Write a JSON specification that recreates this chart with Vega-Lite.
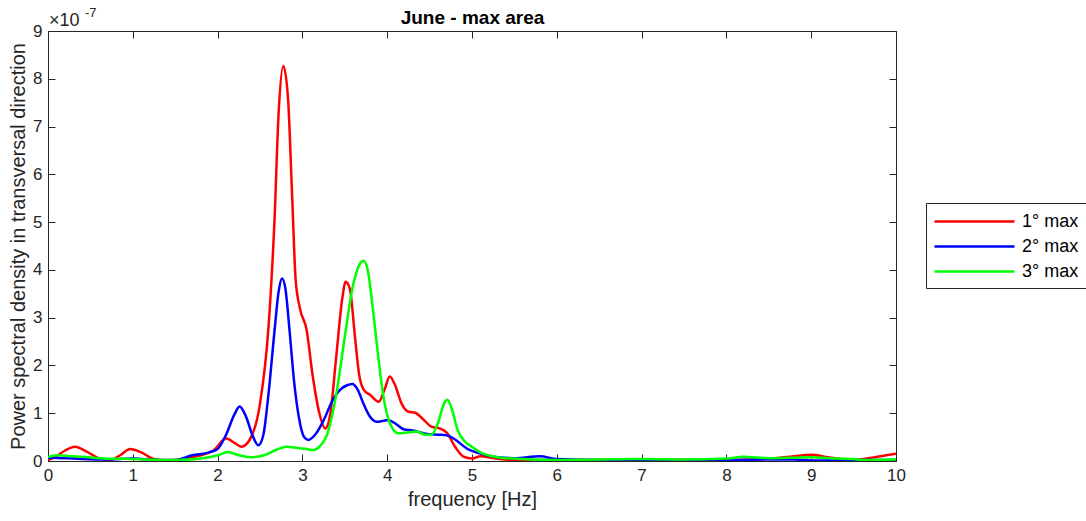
{
  "$schema": "https://vega.github.io/schema/vega-lite/v6.json",
  "width": 848,
  "height": 430,
  "padding": {"left": 8, "top": 7, "right": 0, "bottom": 2},
  "background": "white",
  "config": {
    "view": {"stroke": "#262626", "strokeWidth": 1},
    "font": "Liberation Sans",
    "axis": {"grid": false, "domainColor": "#262626", "tickColor": "#262626", "labelColor": "#262626", "titleColor": "#262626", "labelFont": "Liberation Sans", "titleFont": "Liberation Sans", "labelFontSize": 17, "titleFontSize": 20, "titleFontWeight": "normal", "tickSize": -7, "labelPadding": 13, "labelFlush": false}
  },
  "datasets": {
    "psd": [
      {"f": 0, "v": 0.02, "s": "1° max"}, {"f": 0.1, "v": 0.1, "s": "1° max"}, {"f": 0.2, "v": 0.22, "s": "1° max"}, {"f": 0.32, "v": 0.3, "s": "1° max"}, {"f": 0.45, "v": 0.2, "s": "1° max"}, {"f": 0.6, "v": 0.06, "s": "1° max"}, {"f": 0.73, "v": 0.02, "s": "1° max"}, {"f": 0.85, "v": 0.12, "s": "1° max"}, {"f": 0.97, "v": 0.25, "s": "1° max"}, {"f": 1.1, "v": 0.18, "s": "1° max"}, {"f": 1.25, "v": 0.04, "s": "1° max"}, {"f": 1.4, "v": 0.01, "s": "1° max"}, {"f": 1.6, "v": 0.05, "s": "1° max"}, {"f": 1.8, "v": 0.12, "s": "1° max"}, {"f": 1.95, "v": 0.22, "s": "1° max"}, {"f": 2.1, "v": 0.47, "s": "1° max"}, {"f": 2.2, "v": 0.38, "s": "1° max"}, {"f": 2.28, "v": 0.3, "s": "1° max"}, {"f": 2.38, "v": 0.45, "s": "1° max"}, {"f": 2.5, "v": 1.2, "s": "1° max"}, {"f": 2.6, "v": 2.8, "s": "1° max"}, {"f": 2.67, "v": 5.0, "s": "1° max"}, {"f": 2.72, "v": 7.3, "s": "1° max"}, {"f": 2.775, "v": 8.27, "s": "1° max"}, {"f": 2.83, "v": 7.6, "s": "1° max"}, {"f": 2.88, "v": 5.5, "s": "1° max"}, {"f": 2.92, "v": 3.8, "s": "1° max"}, {"f": 2.97, "v": 3.2, "s": "1° max"}, {"f": 3.05, "v": 2.74, "s": "1° max"}, {"f": 3.12, "v": 1.8, "s": "1° max"}, {"f": 3.2, "v": 1.0, "s": "1° max"}, {"f": 3.27, "v": 0.68, "s": "1° max"}, {"f": 3.33, "v": 1.0, "s": "1° max"}, {"f": 3.4, "v": 2.2, "s": "1° max"}, {"f": 3.47, "v": 3.4, "s": "1° max"}, {"f": 3.51, "v": 3.75, "s": "1° max"}, {"f": 3.56, "v": 3.6, "s": "1° max"}, {"f": 3.62, "v": 2.6, "s": "1° max"}, {"f": 3.67, "v": 1.8, "s": "1° max"}, {"f": 3.72, "v": 1.5, "s": "1° max"}, {"f": 3.8, "v": 1.38, "s": "1° max"}, {"f": 3.9, "v": 1.24, "s": "1° max"}, {"f": 3.97, "v": 1.5, "s": "1° max"}, {"f": 4.03, "v": 1.77, "s": "1° max"}, {"f": 4.09, "v": 1.6, "s": "1° max"}, {"f": 4.17, "v": 1.2, "s": "1° max"}, {"f": 4.25, "v": 1.03, "s": "1° max"}, {"f": 4.33, "v": 1.01, "s": "1° max"}, {"f": 4.42, "v": 0.88, "s": "1° max"}, {"f": 4.52, "v": 0.72, "s": "1° max"}, {"f": 4.62, "v": 0.68, "s": "1° max"}, {"f": 4.7, "v": 0.6, "s": "1° max"}, {"f": 4.8, "v": 0.3, "s": "1° max"}, {"f": 4.9, "v": 0.09, "s": "1° max"}, {"f": 5.0, "v": 0.05, "s": "1° max"}, {"f": 5.1, "v": 0.1, "s": "1° max"}, {"f": 5.25, "v": 0.06, "s": "1° max"}, {"f": 5.5, "v": 0.02, "s": "1° max"}, {"f": 6, "v": 0.02, "s": "1° max"}, {"f": 7, "v": 0.02, "s": "1° max"}, {"f": 8, "v": 0.02, "s": "1° max"}, {"f": 8.5, "v": 0.05, "s": "1° max"}, {"f": 8.8, "v": 0.1, "s": "1° max"}, {"f": 9.0, "v": 0.13, "s": "1° max"}, {"f": 9.2, "v": 0.08, "s": "1° max"}, {"f": 9.5, "v": 0.02, "s": "1° max"}, {"f": 9.75, "v": 0.08, "s": "1° max"}, {"f": 10, "v": 0.15, "s": "1° max"},

      {"f": 0, "v": 0.07, "s": "2° max"}, {"f": 0.3, "v": 0.05, "s": "2° max"}, {"f": 0.7, "v": 0.03, "s": "2° max"}, {"f": 1.0, "v": 0.05, "s": "2° max"}, {"f": 1.3, "v": 0.02, "s": "2° max"}, {"f": 1.5, "v": 0.02, "s": "2° max"}, {"f": 1.7, "v": 0.12, "s": "2° max"}, {"f": 1.9, "v": 0.18, "s": "2° max"}, {"f": 2.0, "v": 0.25, "s": "2° max"}, {"f": 2.1, "v": 0.55, "s": "2° max"}, {"f": 2.2, "v": 0.98, "s": "2° max"}, {"f": 2.26, "v": 1.14, "s": "2° max"}, {"f": 2.33, "v": 0.95, "s": "2° max"}, {"f": 2.42, "v": 0.5, "s": "2° max"}, {"f": 2.48, "v": 0.33, "s": "2° max"}, {"f": 2.54, "v": 0.55, "s": "2° max"}, {"f": 2.6, "v": 1.4, "s": "2° max"}, {"f": 2.67, "v": 2.7, "s": "2° max"}, {"f": 2.72, "v": 3.55, "s": "2° max"}, {"f": 2.76, "v": 3.82, "s": "2° max"}, {"f": 2.8, "v": 3.6, "s": "2° max"}, {"f": 2.85, "v": 2.7, "s": "2° max"}, {"f": 2.9, "v": 1.7, "s": "2° max"}, {"f": 2.96, "v": 0.9, "s": "2° max"}, {"f": 3.02, "v": 0.5, "s": "2° max"}, {"f": 3.07, "v": 0.44, "s": "2° max"}, {"f": 3.15, "v": 0.55, "s": "2° max"}, {"f": 3.25, "v": 0.85, "s": "2° max"}, {"f": 3.35, "v": 1.25, "s": "2° max"}, {"f": 3.45, "v": 1.5, "s": "2° max"}, {"f": 3.52, "v": 1.58, "s": "2° max"}, {"f": 3.59, "v": 1.61, "s": "2° max"}, {"f": 3.65, "v": 1.5, "s": "2° max"}, {"f": 3.72, "v": 1.2, "s": "2° max"}, {"f": 3.8, "v": 0.92, "s": "2° max"}, {"f": 3.88, "v": 0.82, "s": "2° max"}, {"f": 3.95, "v": 0.84, "s": "2° max"}, {"f": 4.01, "v": 0.86, "s": "2° max"}, {"f": 4.1, "v": 0.78, "s": "2° max"}, {"f": 4.2, "v": 0.66, "s": "2° max"}, {"f": 4.3, "v": 0.64, "s": "2° max"}, {"f": 4.45, "v": 0.57, "s": "2° max"}, {"f": 4.6, "v": 0.55, "s": "2° max"}, {"f": 4.7, "v": 0.54, "s": "2° max"}, {"f": 4.8, "v": 0.45, "s": "2° max"}, {"f": 4.95, "v": 0.25, "s": "2° max"}, {"f": 5.09, "v": 0.16, "s": "2° max"}, {"f": 5.3, "v": 0.08, "s": "2° max"}, {"f": 5.5, "v": 0.06, "s": "2° max"}, {"f": 5.8, "v": 0.1, "s": "2° max"}, {"f": 6.0, "v": 0.04, "s": "2° max"}, {"f": 6.5, "v": 0.02, "s": "2° max"}, {"f": 7, "v": 0.02, "s": "2° max"}, {"f": 8, "v": 0.02, "s": "2° max"}, {"f": 8.5, "v": 0.03, "s": "2° max"}, {"f": 8.8, "v": 0.03, "s": "2° max"}, {"f": 9, "v": 0.01, "s": "2° max"}, {"f": 9.5, "v": 0.02, "s": "2° max"}, {"f": 10, "v": 0.02, "s": "2° max"},

      {"f": 0, "v": 0.08, "s": "3° max"}, {"f": 0.1, "v": 0.12, "s": "3° max"}, {"f": 0.3, "v": 0.1, "s": "3° max"}, {"f": 0.6, "v": 0.06, "s": "3° max"}, {"f": 1.0, "v": 0.04, "s": "3° max"}, {"f": 1.5, "v": 0.02, "s": "3° max"}, {"f": 1.8, "v": 0.05, "s": "3° max"}, {"f": 2.0, "v": 0.12, "s": "3° max"}, {"f": 2.12, "v": 0.19, "s": "3° max"}, {"f": 2.25, "v": 0.12, "s": "3° max"}, {"f": 2.4, "v": 0.08, "s": "3° max"}, {"f": 2.55, "v": 0.12, "s": "3° max"}, {"f": 2.7, "v": 0.24, "s": "3° max"}, {"f": 2.81, "v": 0.3, "s": "3° max"}, {"f": 2.95, "v": 0.27, "s": "3° max"}, {"f": 3.05, "v": 0.25, "s": "3° max"}, {"f": 3.13, "v": 0.23, "s": "3° max"}, {"f": 3.2, "v": 0.3, "s": "3° max"}, {"f": 3.3, "v": 0.6, "s": "3° max"}, {"f": 3.4, "v": 1.4, "s": "3° max"}, {"f": 3.5, "v": 2.6, "s": "3° max"}, {"f": 3.6, "v": 3.7, "s": "3° max"}, {"f": 3.67, "v": 4.1, "s": "3° max"}, {"f": 3.72, "v": 4.19, "s": "3° max"}, {"f": 3.77, "v": 4.0, "s": "3° max"}, {"f": 3.83, "v": 3.2, "s": "3° max"}, {"f": 3.9, "v": 2.1, "s": "3° max"}, {"f": 3.96, "v": 1.3, "s": "3° max"}, {"f": 4.03, "v": 0.8, "s": "3° max"}, {"f": 4.13, "v": 0.58, "s": "3° max"}, {"f": 4.25, "v": 0.6, "s": "3° max"}, {"f": 4.35, "v": 0.62, "s": "3° max"}, {"f": 4.45, "v": 0.55, "s": "3° max"}, {"f": 4.52, "v": 0.55, "s": "3° max"}, {"f": 4.6, "v": 0.8, "s": "3° max"}, {"f": 4.67, "v": 1.2, "s": "3° max"}, {"f": 4.71, "v": 1.28, "s": "3° max"}, {"f": 4.76, "v": 1.1, "s": "3° max"}, {"f": 4.83, "v": 0.65, "s": "3° max"}, {"f": 4.92, "v": 0.4, "s": "3° max"}, {"f": 5.0, "v": 0.3, "s": "3° max"}, {"f": 5.1, "v": 0.18, "s": "3° max"}, {"f": 5.3, "v": 0.08, "s": "3° max"}, {"f": 5.6, "v": 0.04, "s": "3° max"}, {"f": 6, "v": 0.02, "s": "3° max"}, {"f": 7, "v": 0.04, "s": "3° max"}, {"f": 7.5, "v": 0.03, "s": "3° max"}, {"f": 8, "v": 0.05, "s": "3° max"}, {"f": 8.2, "v": 0.09, "s": "3° max"}, {"f": 8.5, "v": 0.06, "s": "3° max"}, {"f": 8.8, "v": 0.07, "s": "3° max"}, {"f": 9.0, "v": 0.08, "s": "3° max"}, {"f": 9.3, "v": 0.05, "s": "3° max"}, {"f": 9.5, "v": 0.04, "s": "3° max"}, {"f": 9.6, "v": 0.02, "s": "3° max"}, {"f": 10, "v": 0.03, "s": "3° max"}
    ],
    "mult": [{"f": 0, "v": 9, "base": "×10", "exp": "-7"}]
  },
  "layer": [
    {
      "data": {"name": "psd"},
      "mark": {"type": "line", "strokeWidth": 2.5, "interpolate": "monotone", "clip": true},
      "encoding": {
        "x": {"field": "f", "type": "quantitative", "scale": {"domain": [0, 10], "nice": false, "zero": false}, "axis": {"title": "frequency [Hz]", "values": [0,1,2,3,4,5,6,7,8,9,10], "titlePadding": 6}},
        "y": {"field": "v", "type": "quantitative", "scale": {"domain": [0, 9], "nice": false}, "axis": {"title": "Power spectral density in transversal direction", "values": [0,1,2,3,4,5,6,7,8,9], "titlePadding": 4}},
        "color": {"field": "s", "type": "nominal", "scale": {"domain": ["1° max", "2° max", "3° max"], "range": ["#ff0000", "#0000ff", "#00ff00"]},
          "legend": {"title": null, "orient": "none", "legendX": 878, "legendY": 172, "symbolType": "M-1,0H7", "symbolSize": 400, "symbolStrokeWidth": 2.5, "labelFontSize": 18, "labelColor": "#000000", "labelFont": "Liberation Sans", "strokeColor": "#262626", "padding": 7, "rowPadding": 4, "labelOffset": 66}
        }
      }
    },
    {
      "data": {"name": "mult"},
      "mark": {"type": "text", "align": "left", "baseline": "alphabetic", "dx": 1, "dy": -5, "fontSize": 18, "color": "#262626", "font": "Liberation Sans"},
      "encoding": {
        "x": {"field": "f", "type": "quantitative", "axis": {"orient": "top", "labels": false, "title": "June - max area", "titleFontWeight": "bold", "titleFontSize": 19, "titleColor": "#000000", "titlePadding": 3, "domain": false, "values": [0,1,2,3,4,5,6,7,8,9,10]}},
        "y": {"field": "v", "type": "quantitative", "axis": {"orient": "right", "labels": false, "title": null, "domain": false, "values": [0,1,2,3,4,5,6,7,8,9]}},
        "text": {"field": "base"}
      }
    },
    {
      "data": {"name": "mult"},
      "mark": {"type": "text", "align": "left", "baseline": "alphabetic", "dx": 37, "dy": -14, "fontSize": 13, "color": "#262626", "font": "Liberation Sans"},
      "encoding": {
        "x": {"field": "f", "type": "quantitative", "axis": null},
        "y": {"field": "v", "type": "quantitative", "axis": null},
        "text": {"field": "exp"}
      }
    }
  ],
  "resolve": {"axis": {"x": "independent", "y": "independent"}}
}
